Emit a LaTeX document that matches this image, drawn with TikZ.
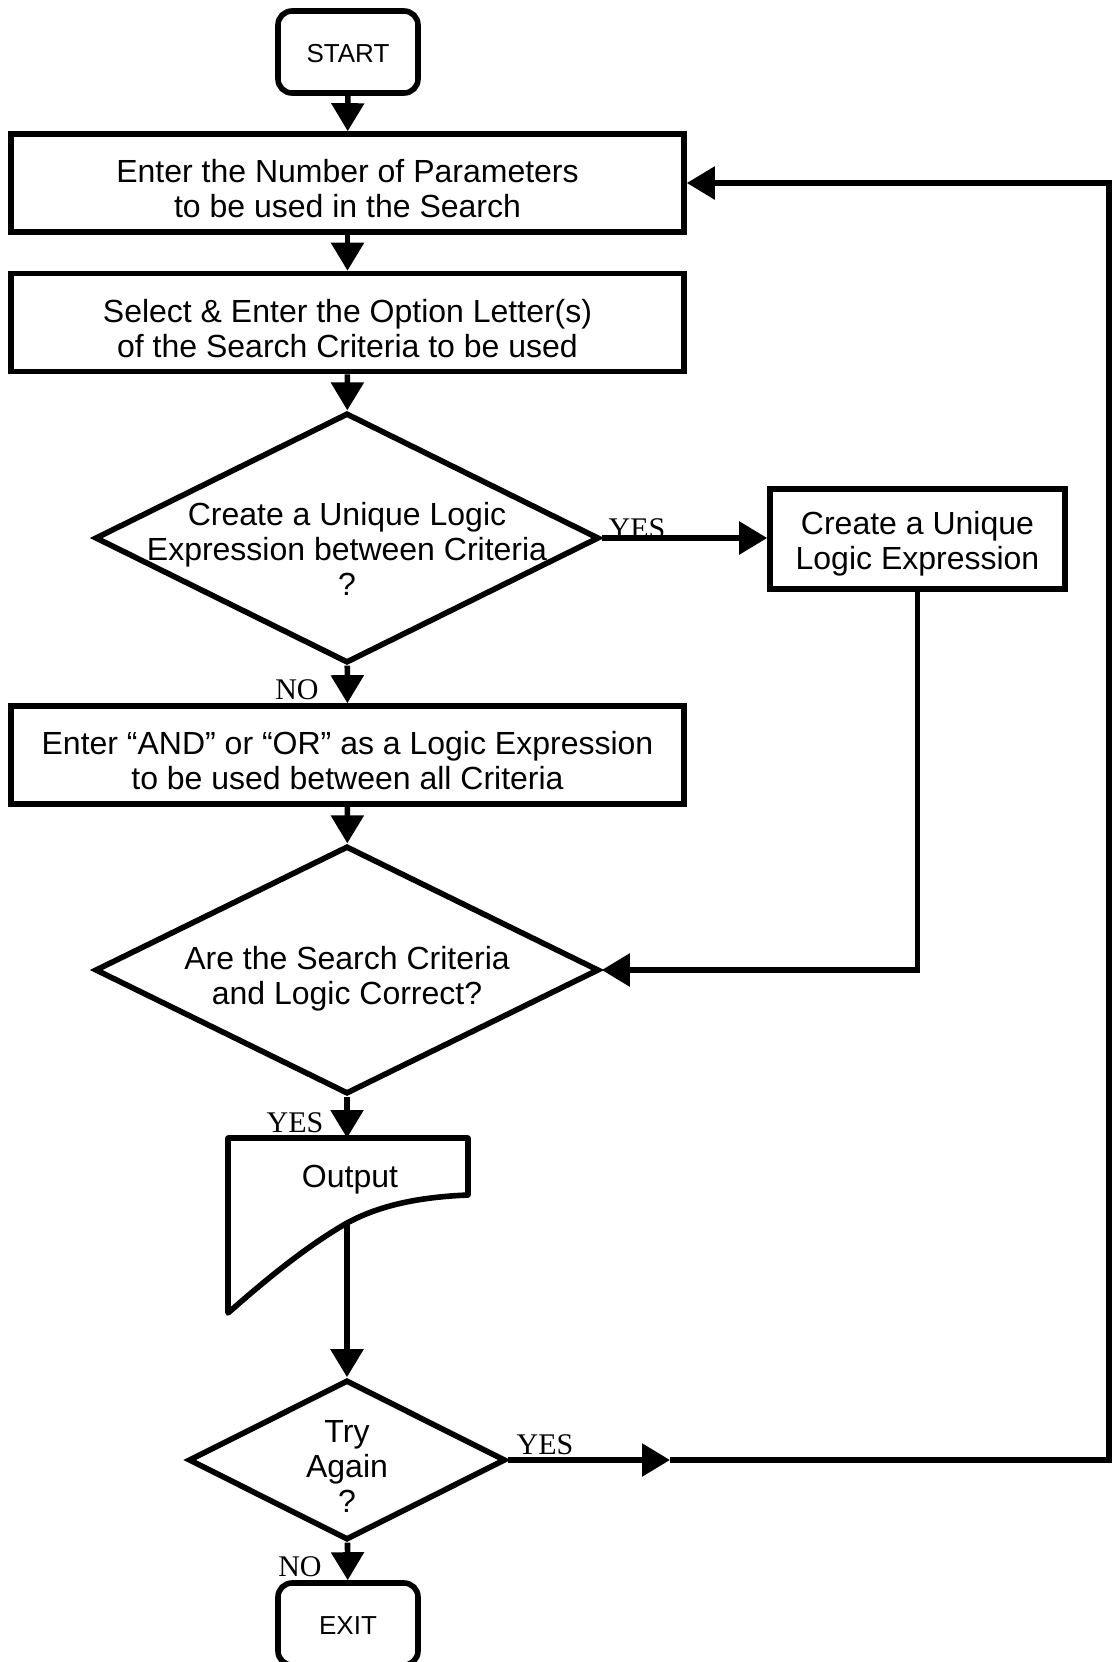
\documentclass[tikz,border=0pt]{standalone}
\usepackage{fontspec}
\setmainfont{Liberation Sans}
\newfontfamily\yesnofont{Liberation Serif}
\usetikzlibrary{shapes.geometric,arrows.meta}

\begin{document}
\begin{tikzpicture}[x=0.5pt,y=0.5pt,yscale=-1,xscale=1,
  line width=2.8pt,
  proc/.style={draw,rectangle,minimum width=336.5pt,minimum height=49pt,inner sep=0pt},
  term/.style={draw,rectangle,rounded corners=7pt,minimum width=70pt,minimum height=41pt,inner sep=0pt},
  decide/.style={draw,diamond,inner sep=0pt},
  qtext/.style={align=center,inner sep=0pt,font=\fontsize{16}{17.5}\selectfont},
  ttext/.style={inner sep=0pt,font=\fontsize{13}{15}\selectfont},
  ans/.style={inner sep=0pt,font=\yesnofont\fontsize{15}{15}\selectfont},
  flow/.style={-{Triangle[length=14pt,width=16pt]}}]

\useasboundingbox (0,0) rectangle (1112,1662);

% main column
\node[term] (start) at (348,52) {};
\node[ttext,yshift=-1pt] at (start) {START};

\node[proc] (params) at (347.5,183) {};
\node[qtext,yshift=-3pt] at (params) {Enter the Number of Parameters\\to be used in the Search};

\node[proc] (crit) at (347.5,322.5) {};
\node[qtext,yshift=-3pt] at (crit) {Select \& Enter the Option Letter(s)\\of the Search Criteria to be used};

\node[decide,minimum width=252pt,minimum height=125pt] (unique) at (347,538) {};
\node[qtext,yshift=-5.5pt] at (unique) {Create a Unique Logic\\Expression between Criteria\\?};

\node[proc,minimum width=147.5pt,minimum height=50pt] (create) at (917.5,539) {};
\node[qtext,yshift=-2.5pt] at (create) {Create a Unique\\Logic Expression};

\node[proc] (andor) at (347.5,755) {};
\node[qtext,yshift=-3pt] at (andor) {Enter “AND” or “OR” as a Logic Expression\\to be used between all Criteria};

\node[decide,minimum width=252pt,minimum height=124pt] (check) at (347,970) {};
\node[qtext,yshift=-4.5pt] at (check) {Are the Search Criteria\\and Logic Correct?};

% output sheet
\draw[line join=round] (228,1138) -- (468,1138) -- (468,1195)
  .. controls (420,1197) and (380,1205) .. (347,1223)
  .. controls (305,1247) and (262,1283) .. (228,1313) -- cycle;
\node[qtext] (output) at (350,1180) {Output};
\coordinate (outtop) at (347,1138);
\coordinate (outbot) at (347,1223);

\node[decide,minimum width=158.5pt,minimum height=80pt] (again) at (347,1460) {};
\node[qtext,yshift=-3pt] at (again) {Try\\Again\\?};

\node[term] (exit) at (348,1624) {};
\node[ttext,yshift=-1pt] at (exit) {EXIT};

% connectors
\draw[flow] (start) -- (params);
\draw[flow] (params) -- (crit);
\draw[flow] (crit) -- (unique);
\draw[flow] (unique.east) -- (unique.east -| create.west);
\draw[flow] (unique) -- (andor);
\draw[flow] (andor) -- (check);
\draw[flow] (create.south) |- (check.east);
\draw[flow] (check) -- (outtop);
\draw[flow] (outbot) -- (again);
\draw[flow] (again) -- (exit);

% loop back
\coordinate (yesmid) at (670,1460);
\coordinate (loopbot) at (1109,1460);
\coordinate (looptop) at (1109,183);
\draw[flow] (again.east) -- (yesmid);
\draw[flow] (yesmid) -- (loopbot) -- (looptop) -- (params.east);

% answers
\node[ans] at (637,529) {YES};
\node[ans] at (297,690) {NO};
\node[ans] at (295,1123) {YES};
\node[ans] at (545,1445) {YES};
\node[ans] at (300,1567) {NO};

\end{tikzpicture}
\end{document}
